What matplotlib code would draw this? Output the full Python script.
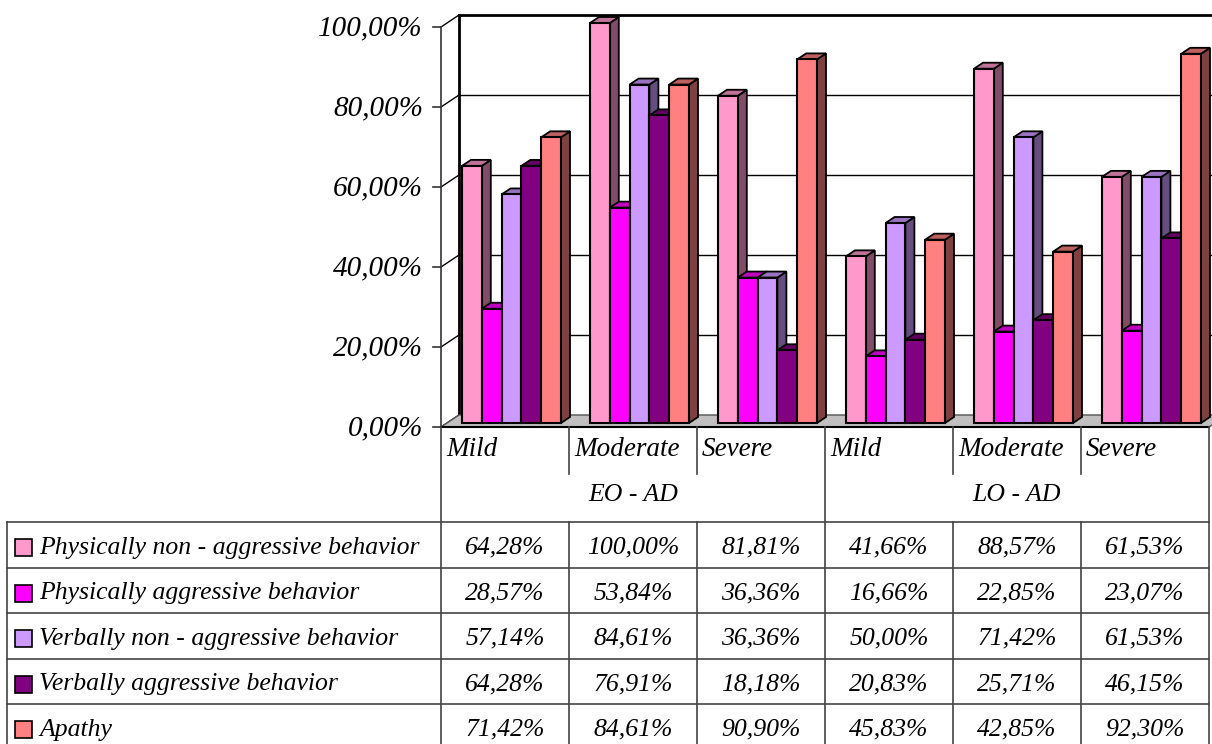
import numpy as np
import matplotlib
matplotlib.use("Agg")
import matplotlib.pyplot as plt
from matplotlib.patches import Polygon, Rectangle
from matplotlib.colors import to_rgb

categories = ["Mild", "Moderate", "Severe", "Mild", "Moderate", "Severe"]
groups = ["EO - AD", "LO - AD"]
series = ["Physically non - aggressive behavior",
          "Physically aggressive behavior",
          "Verbally non - aggressive behavior",
          "Verbally aggressive behavior",
          "Apathy"]
phys_non_aggr = [64.28, 100.00, 81.81, 41.66, 88.57, 61.53]
phys_aggr = [28.57, 53.84, 36.36, 16.66, 22.85, 23.07]
verb_non_aggr = [57.14, 84.61, 36.36, 50.00, 71.42, 61.53]
verb_aggr = [64.28, 76.91, 18.18, 20.83, 25.71, 46.15]
apathy = [71.42, 84.61, 90.90, 45.83, 42.85, 92.30]
values = [phys_non_aggr, phys_aggr, verb_non_aggr, verb_aggr, apathy]
yticks = [0, 20, 40, 60, 80, 100]

colors = ["#FF99CC", "#FF00FF", "#CC99FF", "#800080", "#FF8080"]

W, H = 1212, 744
FONT = "Liberation Serif"
plt.rcParams['font.family'] = [FONT, 'DejaVu Serif']

fig = plt.figure(figsize=(W / 100, H / 100), dpi=100)

# main chart axes: front plane, x = category index, y = percent
x0, x1, yb, yt = 441, 1209, 427, 27
ax = fig.add_axes([x0 / W, (H - yb) / H, (x1 - x0) / W, (yb - yt) / H])
ax.set_xlim(0, 6)
ax.set_ylim(0, 100)
ax.axis("off")

px_x = 6 / (x1 - x0)      # data units per pixel (x)
px_y = 100 / (yb - yt)    # data units per pixel (y)
wdx, wdy = 18 * px_x, 12 * px_y   # wall depth offset

# back wall grid
ax.plot([wdx, wdx], [wdy, 100 + wdy], color="black", lw=2, clip_on=False, zorder=1)
ax.plot([wdx, 6.5], [100 + wdy, 100 + wdy], color="black", lw=2, clip_on=False, zorder=1)
for t in yticks[1:-1]:
    ax.plot([wdx, 6.5], [t + wdy, t + wdy], color="black", lw=1, clip_on=False, zorder=1)
for t in yticks:
    ax.plot([0, wdx], [t, t + wdy], color="black", lw=1, clip_on=False, zorder=1)
    ax.plot([-8 * px_x, 0], [t, t], color="#333333", lw=1.2, clip_on=False, zorder=1)
    ax.text(-18 * px_x, t - 0.3, f"{t:.2f}%".replace(".", ","), ha="right", va="center",
            fontsize=21, style="italic", clip_on=False)
ax.plot([0, 0], [0, 100], color="#333333", lw=1.2, clip_on=False, zorder=1)

# floor
floor = Polygon([(0, 0), (wdx, wdy), (6 + wdx, wdy), (6, 0)], closed=True,
                facecolor="#C0C0C0", edgecolor="#555555", lw=1, clip_on=False, zorder=2)
ax.add_patch(floor)
ax.plot([0, 6], [0, 0], color="black", lw=1.5, clip_on=False, zorder=3)


def shade(c, f):
    r, g, b = to_rgb(c)
    return (r * f, g * f, b * f)


# 3D bars
bw = 19.8 * px_x
boff = 21 * px_x
bdx, bdy = 9 * px_x, 6 * px_y
y0 = 4 * px_y
z = 10
for i in range(len(categories)):
    for s, vals in enumerate(values):
        xl = i + boff + s * bw
        h = vals[i]
        top = y0 + h
        side = Polygon([(xl + bw, y0), (xl + bw + bdx, y0 + bdy),
                        (xl + bw + bdx, top + bdy), (xl + bw, top)],
                       closed=True, facecolor=shade(colors[s], 0.5),
                       edgecolor="black", lw=1.3, clip_on=False, zorder=z)
        topf = Polygon([(xl, top), (xl + bdx, top + bdy),
                        (xl + bw + bdx, top + bdy), (xl + bw, top)],
                       closed=True, facecolor=shade(colors[s], 0.75),
                       edgecolor="black", lw=1.3, clip_on=False, zorder=z)
        front = Rectangle((xl, y0), bw, h, facecolor=colors[s],
                          edgecolor="black", lw=1.5, clip_on=False, zorder=z + 1)
        ax.add_patch(side)
        ax.add_patch(topf)
        ax.add_patch(front)
        z += 2

# data table below the chart, drawn in pixel coordinates
tab = fig.add_axes([0, 0, 1, 1])
tab.set_xlim(0, W)
tab.set_ylim(H, 0)
tab.axis("off")
tab.patch.set_alpha(0)

lc = "#444444"
col_w = (x1 - x0) / 6
col_edges = [x0 + k * col_w for k in range(7)]
row_top = 522
row_h = 45.5
row_edges = [row_top + k * row_h for k in range(6)]

tab.plot([x0, x0], [yb, H], color=lc, lw=1.2)
tab.plot([col_edges[3]] * 2, [yb, H], color=lc, lw=1.2)
tab.plot([x1, x1], [yb, H], color=lc, lw=1.2)
for k in (1, 2, 4, 5):
    tab.plot([col_edges[k]] * 2, [yb, 474], color=lc, lw=1.2)
    tab.plot([col_edges[k]] * 2, [row_top, H], color=lc, lw=1.2)
tab.plot([7, 7], [row_top, H], color=lc, lw=1.2)
for r in row_edges[:5]:
    tab.plot([7, x1], [r, r], color=lc, lw=1.2)

for k, c in enumerate(categories):
    tab.text(col_edges[k] + 5, 450, c, ha="left", va="center", fontsize=19.5, style="italic")
for g, name in enumerate(groups):
    tab.text(x0 + col_w * (3 * g + 1.5), 495, name, ha="center", va="center",
             fontsize=18.5, style="italic")

for s, vals in enumerate(values):
    yc = row_top + row_h * s + row_h / 2 + 3
    tab.add_patch(Rectangle((15, yc - 8.5), 17, 17, facecolor=colors[s],
                            edgecolor="black", lw=1.2))
    tab.text(39, yc, series[s], ha="left", va="center", fontsize=18.5, style="italic")
    for k, v in enumerate(vals):
        tab.text(col_edges[k] + col_w / 2, yc, f"{v:.2f}%".replace(".", ","),
                 ha="center", va="center", fontsize=18.5, style="italic")

fig.savefig("out.png", dpi=100, facecolor="white")
